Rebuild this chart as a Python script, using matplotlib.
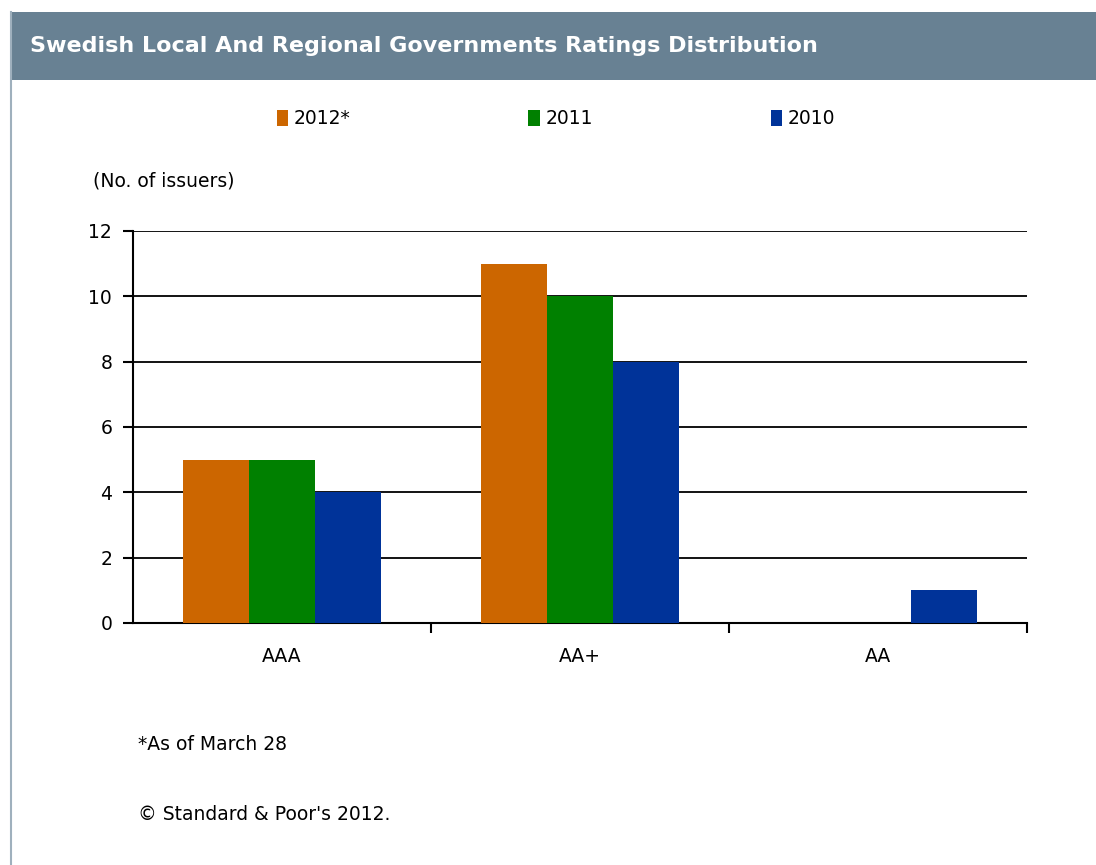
import matplotlib.pyplot as plt
import matplotlib.patches as patches
from matplotlib.lines import Line2D
import numpy as np

plt.rcParams['font.family'] = ['DejaVu Sans']

# data
categories = ['AAA', 'AA+', 'AA']
years = ['2012*', '2011', '2010']
vals_2012 = [5, 11, 0]
vals_2011 = [5, 10, 0]
vals_2010 = [4, 8, 1]
colors = ['#CC6600', '#008000', '#003399']

W, H = 1096, 865
fs = 13.5
fig = plt.figure(figsize=(W / 100, H / 100), dpi=100)
fig.patch.set_facecolor('white')

# title bar + left border
fig.patches.append(patches.Rectangle((10 / W, 1 - 80 / H), 1 - 10 / W, 68 / H,
                                     transform=fig.transFigure, facecolor='#688193',
                                     edgecolor='none', zorder=0))
fig.lines.append(Line2D([10.5 / W, 10.5 / W], [0, 1 - 12 / H], transform=fig.transFigure,
                        color='#9fb0bd', lw=1.5))
fig.text(30 / W, 1 - 46 / H, 'Swedish Local And Regional Governments Ratings Distribution',
         color='white', fontsize=16, fontweight='bold', va='center', ha='left')

ax = fig.add_axes([133 / W, 1 - 623 / H, (1027 - 133) / W, (623 - 231) / H])
x = np.arange(len(categories))
bw = 0.222
for i, (vals, c, lab) in enumerate(zip([vals_2012, vals_2011, vals_2010], colors, years)):
    ax.bar(x + (i - 1) * bw, vals, width=bw, color=c, label=lab, zorder=3)

ax.set_xlim(-0.5, 2.5)
ax.set_ylim(0, 12)
ax.set_yticks(range(0, 13, 2))
ax.yaxis.grid(True, color='black', lw=1.3, zorder=1)
ax.set_axisbelow(True)
for s in ['top', 'right']:
    ax.spines[s].set_visible(False)
for s in ['left', 'bottom']:
    ax.spines[s].set_linewidth(1.5)
ax.set_xticks([0.5, 1.5, 2.5], minor=False)
ax.set_xticklabels([])
ax.set_xticks(x, minor=True)
ax.set_xticklabels(categories, minor=True)
ax.tick_params(axis='x', which='minor', length=0, pad=17, labelsize=fs)
ax.tick_params(axis='x', which='major', length=7, width=1.5, direction='out')
ax.tick_params(axis='y', length=7, width=1.5, pad=8, labelsize=fs)

fig.text(93 / W, 1 - 181 / H, '(No. of issuers)', fontsize=fs, va='center', ha='left')

handles = [patches.Patch(facecolor=c, edgecolor='none') for c in colors]
fig.legend(handles, years, loc='center', bbox_to_anchor=(556 / W, 1 - 119 / H),
           ncol=3, frameon=False, fontsize=fs, handlelength=0.6,
           handleheight=0.9, handletextpad=0.3, columnspacing=9.5)

fig.text(138 / W, 1 - 745 / H, '*As of March 28', fontsize=fs, va='center', ha='left')
fig.text(138 / W, 1 - 815 / H, "\u00a9 Standard & Poor's 2012.", fontsize=fs,
         va='center', ha='left')

fig.savefig('out.png', dpi=100)
